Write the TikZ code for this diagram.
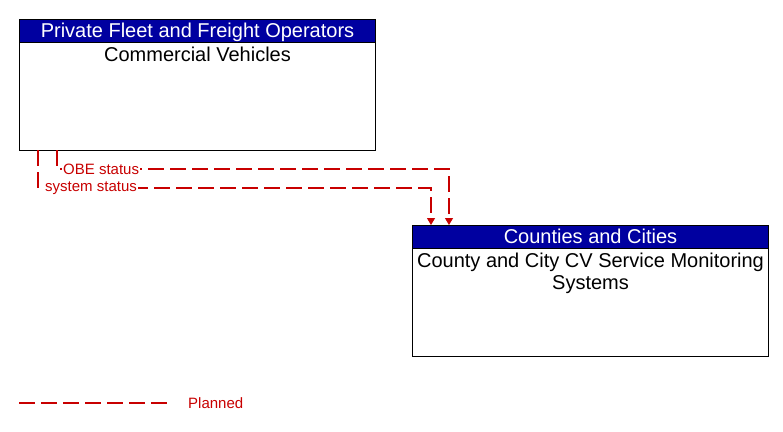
\documentclass[tikz,border=0pt]{standalone}
\usepackage{fontspec}
\setmainfont{Liberation Sans}
\usetikzlibrary{arrows.meta,positioning}

\definecolor{hdrblue}{RGB}{0,0,160}
\definecolor{flowred}{RGB}{200,0,0}

\tikzset{
	box/.style={draw=black, line width=1pt, anchor=north west, inner sep=0pt},
	hdr/.style={draw=black, line width=1pt, fill=hdrblue, text=white, inner sep=0pt,
		minimum width=356pt, minimum height=23pt, anchor=north,
		text height=15pt, text depth=3pt,
		font=\fontsize{20}{22}\selectfont},
	body/.style={anchor=north, align=center, inner sep=1pt, yshift=-2.5pt,
		font=\fontsize{20}{22}\selectfont},
	flow/.style={draw=flowred, line width=1.1pt, dash pattern=on 16pt off 6pt,
		-{Triangle[width=8pt,length=7pt]}},
	lbl/.style={fill=white, text=flowred, inner sep=1pt, anchor=west,
		font=\fontsize{15}{17}\selectfont}
}

\begin{document}
\begin{tikzpicture}[x=1pt,y=-1pt]

	\useasboundingbox (0,0) rectangle (783,431);

	% boxes
	\node[box, minimum width=356pt, minimum height=131pt] (cv) at (19,19) {};
	\node[hdr] (cvhdr) at (cv.north) {Private Fleet and Freight Operators};
	\node[body] (cvname) at (cvhdr.south) {Commercial Vehicles};

	\node[box, minimum width=356pt, minimum height=131pt] (mon) at (412,225) {};
	\node[hdr] (monhdr) at (mon.north) {Counties and Cities};
	\node[body] (monname) at (monhdr.south) {County and City CV Service Monitoring\\Systems};

	% points
	\coordinate (obeA) at (57,150);
	\coordinate (obeB) at (449,169);
	\coordinate (obeC) at (449,225);
	\coordinate (sysA) at (38,150);
	\coordinate (sysB) at (431,188);
	\coordinate (sysC) at (431,225);

	% flows
	\draw[flow] (obeA) |- (obeB) -- (obeC);
	\draw[flow] (sysA) |- (sysB) -- (sysC);

	% flow labels
	\node[lbl] (obe) at (62,169) {OBE status};
	\node[lbl] (sys) at (44,188) {system status};

	% legend
	\coordinate (legA) at (19,403);
	\coordinate (legB) at (170,403);
	\draw[draw=flowred, line width=1.1pt, dash pattern=on 16pt off 6pt] (legA) -- (legB);
	\node[lbl, fill=none] (plan) at (187,403) {Planned};

\end{tikzpicture}
\end{document}
